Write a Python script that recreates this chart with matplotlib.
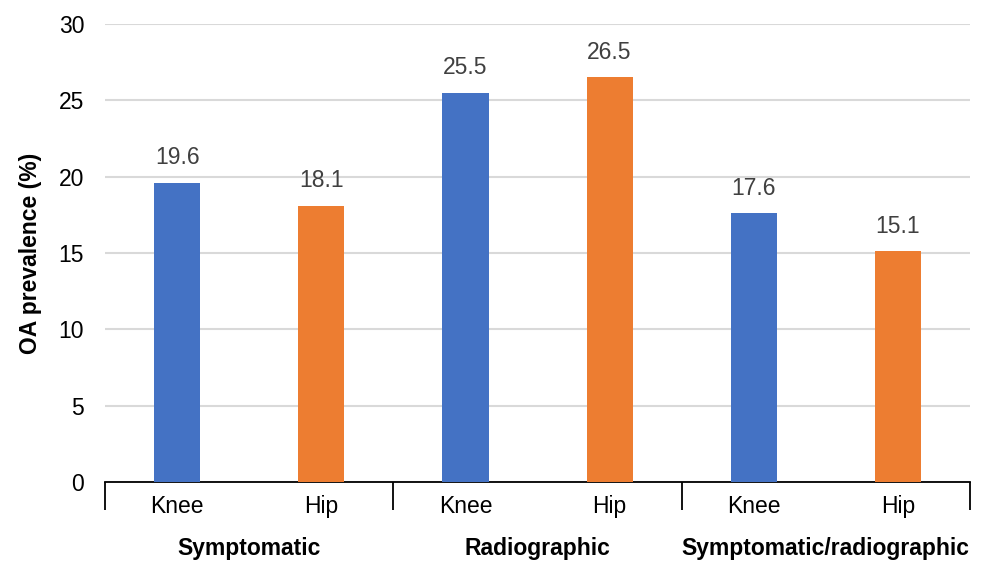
import matplotlib
matplotlib.use("Agg")
import matplotlib.pyplot as plt
from matplotlib.transforms import blended_transform_factory

# data
groups = ["Symptomatic", "Radiographic", "Symptomatic/radiographic"]
joints = ["Knee", "Hip"]
values = [19.6, 18.1, 25.5, 26.5, 17.6, 15.1]
yticks = [0, 5, 10, 15, 20, 25, 30]

BLUE = "#4472C4"
ORANGE = "#ED7D31"
FS = 16.5

plt.rcParams["font.family"] = ["Liberation Sans", "DejaVu Sans"]

fig = plt.figure(figsize=(9.86, 5.62), dpi=100)
ax = fig.add_axes([0.1065, 0.1423, 0.8773, 0.815])

xs = list(range(len(values)))
colors = [BLUE if i % 2 == 0 else ORANGE for i in xs]
bars = ax.bar(xs, values, width=0.32, color=colors, zorder=3)
for b, v in zip(bars, values):
    ax.text(b.get_x() + b.get_width() / 2, v + 0.9, f"{v:.1f}",
            ha="center", va="bottom", fontsize=FS, color="#404040")

ax.set_xlim(-0.5, len(values) - 0.5)
ax.set_ylim(0, 30)
ax.set_yticks(yticks)
ax.tick_params(axis="y", length=0, labelsize=FS, pad=15, colors="black")
ax.yaxis.grid(True, color="#d9d9d9", linewidth=1.5, zorder=0)
ax.set_axisbelow(True)

# category ticks (no marks) plus group separators as minor ticks
ax.set_xticks(xs)
ax.set_xticklabels(joints * len(groups))
ax.tick_params(axis="x", which="major", length=0, labelsize=FS, pad=9)
ax.set_xticks([-0.5 + 2 * k for k in range(len(groups) + 1)], minor=True)
ax.tick_params(axis="x", which="minor", length=20, width=1.3, direction="out")

for s in ["top", "right", "left"]:
    ax.spines[s].set_visible(False)
ax.spines["bottom"].set_linewidth(1.3)

trans = blended_transform_factory(ax.transData, ax.transAxes)
for k, g in enumerate(groups):
    ax.text(2 * k + 0.5, -0.146, g, transform=trans, ha="center", va="center",
            fontsize=FS, fontweight="bold")

ax.set_ylabel("OA prevalence (%)", fontsize=FS, fontweight="bold", labelpad=12)

fig.savefig("out.png", dpi=100)
